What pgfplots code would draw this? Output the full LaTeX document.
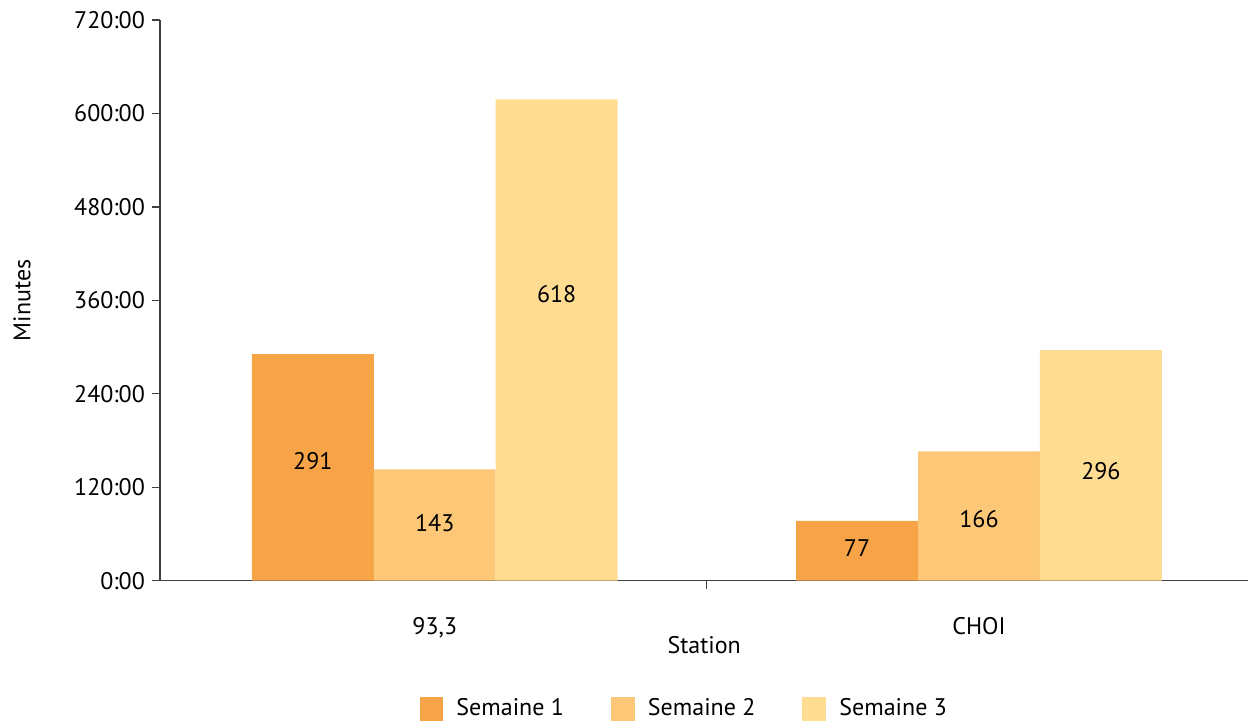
\documentclass[border=0pt]{standalone}
\usepackage{pgfplots}
\pgfplotsset{compat=1.18}
\usepackage{fontspec}
\setmainfont{PT Sans}
\definecolor{sem1}{HTML}{F7A449}
\definecolor{sem2}{HTML}{FCC776}
\definecolor{sem3}{HTML}{FEDD93}
\definecolor{axisgray}{HTML}{404040}

% x  value  drop (distance from top of bar to label)
\pgfplotstableread{
x y d
0 291 137
1 77 34.6
}\semA
\pgfplotstableread{
x y d
0 143 68.6
1 166 86.4
}\semB
\pgfplotstableread{
x y d
0 618 250
1 296 155
}\semC

\begin{document}
\begin{tikzpicture}
\begin{axis}[
    scale only axis,
    width=544.5pt, height=280.5pt,
    font=\fontsize{12}{14}\selectfont,
    /pgf/number format/assume math mode=true,
    ybar=0pt, bar width=61pt,
    xmin=-0.505, xmax=1.495,
    ymin=0, ymax=720,
    axis x line*=bottom, axis y line*=left,
    axis line style={axisgray, line width=0.6pt},
    tick style={axisgray, line width=0.6pt},
    tick align=outside,
    ytick={0,120,...,720},
    yticklabels={0:00,120:00,240:00,360:00,480:00,600:00,720:00},
    major tick length=4pt,
    xtick={0,1}, xticklabels={{93,3},CHOI},
    xtick style={draw=none},
    xticklabel style={yshift=-11pt},
    extra x ticks={0.5}, extra x tick labels={},
    extra x tick style={xtick style={draw=axisgray}},
    xlabel={Station},
    xlabel style={at={(axis description cs:0.5,-0.114)}, anchor=center},
    ylabel={Minutes},
    ylabel style={at={(axis description cs:-0.1267,0.5)}, anchor=center},
    legend columns=3,
    legend style={draw=none, at={(0.4826,-0.228)}, anchor=center,
        /tikz/every even column/.append style={column sep=21.5pt},
        font=\fontsize{12}{14}\selectfont},
    legend image code/.code={\fill[#1] (0pt,-6pt) rectangle (12pt,6pt);
        \path (16.5pt,0pt);},
    visualization depends on={\thisrow{d} \as \dd},
    nodes near coords,
    nodes near coords style={anchor=center, black,
        shift={(axis direction cs:0,-\dd)}},
    point meta=explicit,
]
\addplot[fill=sem1, draw=none] table[x=x, y=y, meta=y] {\semA};
\addplot[fill=sem2, draw=none] table[x=x, y=y, meta=y] {\semB};
\addplot[fill=sem3, draw=none] table[x=x, y=y, meta=y] {\semC};
\legend{Semaine 1, Semaine 2, Semaine 3}
\end{axis}
\path[use as bounding box] (current axis.south west) ++(-80pt,-70.5pt) rectangle ([yshift=10pt]current axis.north east);
\end{tikzpicture}
\end{document}
